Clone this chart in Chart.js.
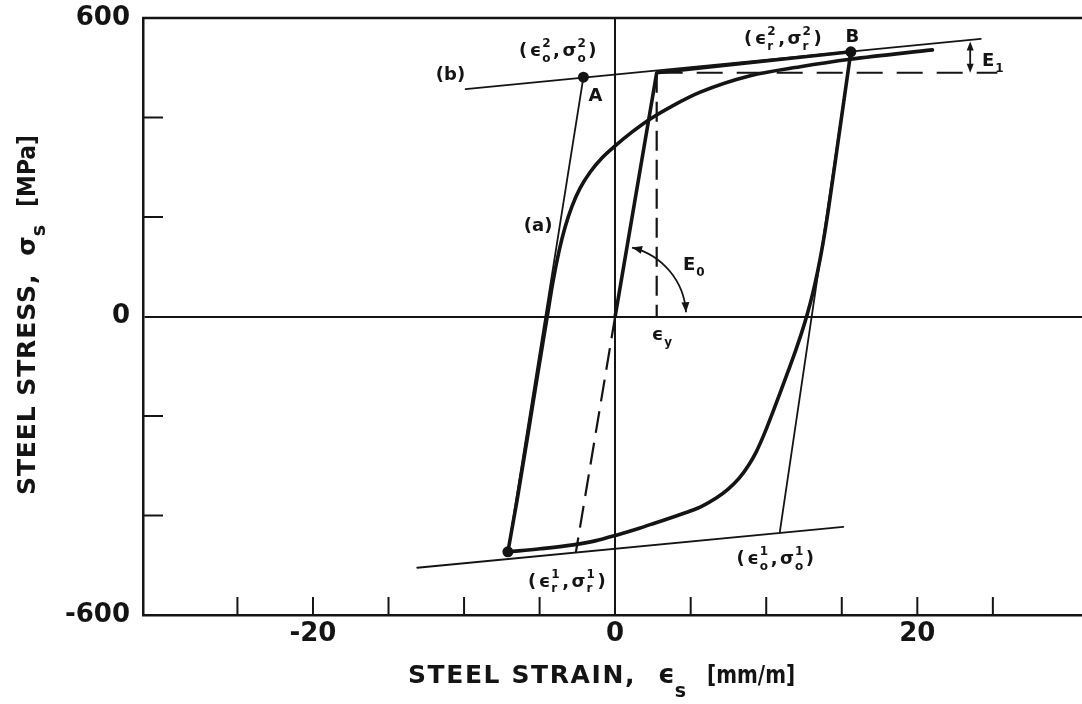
<!DOCTYPE html>
<html>
<head>
<meta charset="utf-8">
<title>Steel stress-strain hysteresis</title>
<script src="https://cdn.jsdelivr.net/npm/chart.js@4.4.1/dist/chart.umd.min.js"></script>
<style>
  html, body { margin: 0; padding: 0; background: #fff; }
  canvas { display: block; }
</style>
</head>
<body>
<canvas id="chart" width="1082" height="704"></canvas>
<script>
const INK = '#141414';
const FONT = '"DejaVu Sans", sans-serif';

// strain in mm/m, stress in MPa
const upperAsymptote = [[-9.9, 457], [24.2, 558]];
const lowerAsymptote = [[-13.1, -505], [15.1, -423]];
const elasticToA = [[-7.1, -473], [-2.1, 481]];
const elasticFromB = [[15.6, 532], [10.9, -433]];
const monotonicPath = [[0, 0], [2.75, 490], [15.6, 532]];
const reloadCurve = [
  [-7.1, -473], [-6.49, -369], [-5.83, -248], [-5.17, -124], [-4.5, -1],
  [-4.11, 71], [-3.71, 132], [-3.31, 180], [-2.85, 222], [-2.32, 258],
  [-1.66, 290], [-0.86, 319], [0, 343], [1.13, 371], [2.32, 397],
  [3.77, 423], [5.63, 451], [8.94, 484], [12.25, 502], [15.56, 517], [21.0, 536]
];
const unloadCurve = [
  [15.6, 532], [14.77, 355], [14.11, 214], [13.75, 146], [13.4, 90],
  [13.05, 43], [12.7, 3], [12.35, -32], [11.95, -68], [11.45, -110],
  [10.95, -151], [10.45, -191], [9.87, -236], [9.34, -272], [8.81, -300],
  [8.21, -325], [7.48, -347], [6.69, -365], [5.76, -381], [4.97, -391],
  [3.84, -403], [2.65, -415], [1.66, -425], [0.13, -439], [-1.32, -451],
  [-2.78, -459], [-4.97, -467], [-7.1, -473]
];
const elasticExtension = [[0, 0], [-2.6, -474]];
const yieldStrainLine = [[2.75, 490], [2.75, 0]];
const yieldStressLine = [[2.75, 490], [25.3, 490]];
const markedPoints = [[-7.1, -473], [-2.1, 481], [15.6, 532]];

const xTickMarks = [-25, -20, -15, -10, -5, 5, 10, 15, 20, 25];
const yTickMarks = [-400, -200, 200, 400];
const xTickLabels = [-20, 0, 20];
const yTickLabels = [-600, 0, 600];

const pts = arr => arr.map(([x, y]) => ({ x, y }));

function path(data, width, opts = {}) {
  return Object.assign({
    data: pts(data), showLine: true, borderColor: INK, borderWidth: width,
    borderDash: [], tension: 0, pointRadius: 0, pointHoverRadius: 0,
    borderCapStyle: 'round', borderJoinStyle: 'round', fill: false
  }, opts);
}

// text labels placed in data coordinates; arrays are [base, subscript, superscript]
const notes = [
  { at: [-10.9, 489], parts: ['(b)'] },
  { at: [-1.3, 447], parts: ['A'] },
  { at: [15.7, 564], parts: ['B'] },
  { at: [-5.1, 184], parts: ['(a)'] },
  { at: [-3.8, 536], parts: ['(', ['ϵ', 'o', '2'], ',', ['σ', 'o', '2'], ')'] },
  { at: [11.1, 560], parts: ['(', ['ϵ', 'r', '2'], ',', ['σ', 'r', '2'], ')'] },
  { at: [-3.2, -530], parts: ['(', ['ϵ', 'r', '1'], ',', ['σ', 'r', '1'], ')'] },
  { at: [10.6, -485], parts: ['(', ['ϵ', 'o', '1'], ',', ['σ', 'o', '1'], ')'] },
  { at: [5.2, 106], parts: [['E', '0']] },
  { at: [25.0, 516], parts: [['E', '1']] },
  { at: [3.1, -35], parts: [['ϵ', 'y']] }
];

function drawRich(ctx, parts, cx, cy, size, gap) {
  const small = Math.round(size * 0.66);
  const big = `bold ${size}px ${FONT}`, sm = `bold ${small}px ${FONT}`;
  const widths = parts.map(p => {
    ctx.font = big;
    if (typeof p === 'string') return ctx.measureText(p).width;
    const wb = ctx.measureText(p[0]).width;
    ctx.font = sm;
    const ws = Math.max(p[1] ? ctx.measureText(p[1]).width : 0, p[2] ? ctx.measureText(p[2]).width : 0);
    return wb + ws + 1;
  });
  const total = widths.reduce((a, b) => a + b, 0) + gap * (parts.length - 1);
  let x = cx - total / 2;
  const base = cy + size * 0.36;
  ctx.textAlign = 'left';
  ctx.textBaseline = 'alphabetic';
  parts.forEach((p, i) => {
    ctx.font = big;
    if (typeof p === 'string') {
      ctx.fillText(p, x, base);
    } else {
      ctx.fillText(p[0], x, base);
      const wb = ctx.measureText(p[0]).width;
      ctx.font = sm;
      if (p[1]) ctx.fillText(p[1], x + wb + 1, base + size * 0.32);
      if (p[2]) ctx.fillText(p[2], x + wb + 1, base - size * 0.5);
    }
    x += widths[i] + gap;
  });
}

// pieces of an axis title drawn one after another along the baseline
function drawRuns(ctx, runs) {
  let x = 0;
  ctx.textAlign = 'left';
  ctx.textBaseline = 'alphabetic';
  runs.forEach(r => {
    if (r.gap) { x += r.gap; return; }
    ctx.font = `bold ${r.size}px ${FONT}`;
    ctx.letterSpacing = (r.ls || 0) + 'px';
    const w = ctx.measureText(r.t).width;
    const sx = r.fit ? r.fit / w : 1;
    ctx.save();
    ctx.translate(x, r.dy || 0);
    ctx.scale(sx, 1);
    ctx.fillText(r.t, 0, 0);
    ctx.restore();
    x += w * sx;
  });
  ctx.letterSpacing = '0px';
}

function arrowHead(ctx, tipX, tipY, dx, dy, len, half) {
  const n = Math.hypot(dx, dy); dx /= n; dy /= n;
  ctx.beginPath();
  ctx.moveTo(tipX, tipY);
  ctx.lineTo(tipX - dx * len - dy * half, tipY - dy * len + dx * half);
  ctx.lineTo(tipX - dx * len + dy * half, tipY - dy * len - dx * half);
  ctx.closePath();
  ctx.fill();
}

const figureMarks = {
  id: 'figureMarks',
  afterDatasetsDraw(chart) {
    const { ctx, chartArea: a, scales: { x, y } } = chart;
    ctx.save();
    ctx.strokeStyle = INK;
    ctx.fillStyle = INK;
    ctx.lineCap = 'butt';

    // top edge of the frame
    ctx.lineWidth = 2.5;
    ctx.beginPath(); ctx.moveTo(a.left - 1, a.top); ctx.lineTo(a.right, a.top); ctx.stroke();

    // tick marks point into the plot
    ctx.lineWidth = 2;
    xTickMarks.forEach(v => {
      const px = x.getPixelForValue(v);
      ctx.beginPath(); ctx.moveTo(px, a.bottom); ctx.lineTo(px, a.bottom - 18); ctx.stroke();
    });
    yTickMarks.forEach(v => {
      const py = y.getPixelForValue(v);
      ctx.beginPath(); ctx.moveTo(a.left, py); ctx.lineTo(a.left + 20, py); ctx.stroke();
    });

    // E0 arc swinging from the elastic branch down to the strain axis
    const ox = x.getPixelForValue(0), oy = y.getPixelForValue(0);
    const r = 71, t1 = -1.33, t2 = -0.06;
    ctx.lineWidth = 1.8;
    ctx.beginPath(); ctx.arc(ox, oy, r, t1, t2); ctx.stroke();
    arrowHead(ctx, ox + r * Math.cos(t1), oy + r * Math.sin(t1), Math.sin(t1), -Math.cos(t1), 10, 4);
    arrowHead(ctx, ox + r * Math.cos(t2), oy + r * Math.sin(t2), -Math.sin(t2), Math.cos(t2), 10, 4);

    // E1 offset between the yield level and the hardening line
    const ex = x.getPixelForValue(23.5);
    const eTop = y.getPixelForValue(553), eBot = y.getPixelForValue(490);
    ctx.beginPath(); ctx.moveTo(ex, eTop + 4); ctx.lineTo(ex, eBot - 4); ctx.stroke();
    arrowHead(ctx, ex, eTop, 0, -1, 9, 3.5);
    arrowHead(ctx, ex, eBot, 0, 1, 9, 3.5);

    // curve and point labels
    notes.forEach(n => {
      drawRich(ctx, n.parts, x.getPixelForValue(n.at[0]), y.getPixelForValue(n.at[1]), 18, 2.5);
    });

    // axis titles
    ctx.save();
    ctx.translate(408, 683);
    drawRuns(ctx, [
      { t: 'STEEL STRAIN,', size: 25, ls: 1.6 },
      { gap: 22 },
      { t: 'ϵ', size: 26 },
      { t: 's', size: 19, dy: 14 },
      { gap: 21 },
      { t: '[mm/m]', size: 25, fit: 88 }
    ]);
    ctx.restore();

    ctx.save();
    ctx.translate(35, 495);
    ctx.rotate(-Math.PI / 2);
    drawRuns(ctx, [
      { t: 'STEEL STRESS,', size: 25, ls: 0.9 },
      { gap: 18 },
      { t: 'σ', size: 25 },
      { t: 's', size: 19, dy: 10 },
      { gap: 18 },
      { t: '[MPa]', size: 25, fit: 72 }
    ]);
    ctx.restore();

    ctx.restore();
  }
};

const zeroLine = ctx => (ctx.tick && ctx.tick.value === 0 ? INK : 'rgba(0,0,0,0)');

new Chart(document.getElementById('chart'), {
  type: 'scatter',
  data: {
    datasets: [
      path(upperAsymptote, 1.8),
      path(lowerAsymptote, 1.8),
      path(elasticToA, 1.8),
      path(elasticFromB, 1.8),
      path(elasticExtension, 2.2, { borderDash: [22, 10], borderCapStyle: 'butt' }),
      path(yieldStrainLine, 2.2, { borderDash: [20, 9], borderCapStyle: 'butt' }),
      path(yieldStressLine, 2.2, { borderDash: [26, 14], borderCapStyle: 'butt' }),
      path(monotonicPath, 3.6),
      path(reloadCurve, 3.6, { cubicInterpolationMode: 'monotone' }),
      path(unloadCurve, 3.6, { cubicInterpolationMode: 'monotone' }),
      { data: pts(markedPoints), showLine: false, pointRadius: 5.5, pointHoverRadius: 5.5,
        pointBackgroundColor: INK, pointBorderColor: INK, pointBorderWidth: 0 }
    ]
  },
  options: {
    responsive: false,
    animation: false,
    events: [],
    layout: { autoPadding: false, padding: { top: 18, right: 0, bottom: 0, left: 0 } },
    plugins: { legend: { display: false }, tooltip: { enabled: false } },
    scales: {
      x: {
        type: 'linear', min: -31.25, max: 30.9,
        afterFit: s => { s.height = 89; s.paddingLeft = 0; s.paddingRight = 0; },
        grid: { color: zeroLine, lineWidth: 2, drawTicks: false },
        border: { display: true, color: INK, width: 2.5 },
        ticks: {
          stepSize: 5, padding: 4, color: INK, maxRotation: 0, autoSkip: false,
          font: { family: FONT, size: 26, weight: 'bold' },
          callback: v => (xTickLabels.includes(v) ? String(v) : '')
        }
      },
      y: {
        min: -600, max: 600,
        afterFit: s => { s.width = 143; s.paddingTop = 0; s.paddingBottom = 0; },
        grid: { color: zeroLine, lineWidth: 2, drawTicks: false },
        border: { display: true, color: INK, width: 2.5 },
        ticks: {
          stepSize: 200, padding: 13, color: INK, autoSkip: false,
          font: { family: FONT, size: 26, weight: 'bold' },
          callback: v => (yTickLabels.includes(v) ? String(v) : '')
        }
      }
    }
  },
  plugins: [figureMarks]
});
</script>
</body>
</html>
